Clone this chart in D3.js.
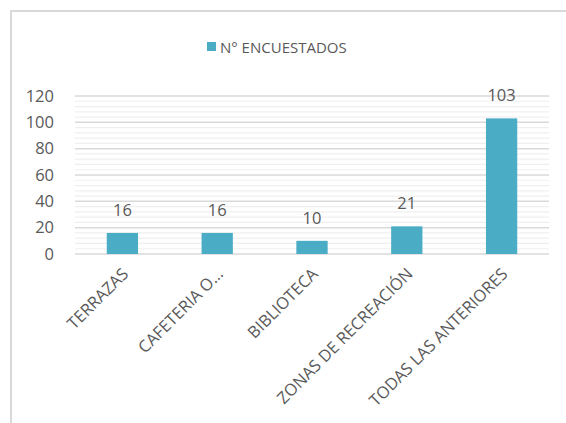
<!DOCTYPE html>
<html><head><meta charset="utf-8">
<script src="https://cdn.jsdelivr.net/npm/d3@7"></script>
<style>body{margin:0;background:#fff}svg{display:block}text{font-family:"Open Sans",sans-serif;fill:#595959}</style>
</head><body><svg id="c" width="566" height="423"></svg>
<script>
const categories = ["TERRAZAS","CAFETERIA O…","BIBLIOTECA","ZONAS DE RECREACIÓN","TODAS LAS ANTERIORES"];
const values = [16,16,10,21,103];
const seriesName = "N° ENCUESTADOS";
const yTicks = [0,20,40,60,80,100,120];
const minorTicks = d3.range(0,121,4).filter(v=>v%20!==0);
const color = "#4BACC6";

const svg = d3.select("#c");
svg.append("rect").attr("x",11).attr("y",11).attr("width",600).attr("height",450)
  .attr("fill","none").attr("stroke","#d9d9d9").attr("stroke-width",2);

const x = d3.scaleBand().domain(categories).range([75,549]).paddingInner(0.67).paddingOuter(0.335);
const y = d3.scaleLinear().domain([0,120]).range([254,96]);

svg.append("g").selectAll("line").data(minorTicks).join("line")
  .attr("x1",75).attr("x2",549).attr("y1",d=>y(d)).attr("y2",d=>y(d))
  .attr("stroke","#efefef").attr("stroke-width",1.2);
svg.append("g").selectAll("line").data(yTicks).join("line")
  .attr("x1",75).attr("x2",549).attr("y1",d=>y(d)).attr("y2",d=>y(d))
  .attr("stroke","#d9d9d9").attr("stroke-width",1.5);

const yAxis = svg.append("g").attr("transform","translate(54,0)")
  .call(d3.axisLeft(y).tickValues(yTicks).tickSize(0).tickPadding(0));
yAxis.select(".domain").remove();
yAxis.selectAll("text").attr("font-size",16.5).attr("font-family","'Open Sans',sans-serif").attr("fill","#595959");

svg.append("g").selectAll("rect").data(values).join("rect")
  .attr("x",(d,i)=>x(categories[i])).attr("width",x.bandwidth())
  .attr("y",d=>y(d)).attr("height",d=>y(0)-y(d)).attr("fill",color);

svg.append("g").selectAll("text").data(values).join("text")
  .attr("x",(d,i)=>x(categories[i])+x.bandwidth()/2).attr("y",d=>y(d)-17)
  .attr("text-anchor","middle").attr("font-size",16.5).text(d=>d);

const xAxis = svg.append("g").attr("transform","translate(0,254)")
  .call(d3.axisBottom(x).tickSize(0).tickPadding(0));
xAxis.select(".domain").remove();
xAxis.selectAll("text")
  .attr("font-size",16.5).attr("font-family","'Open Sans',sans-serif").attr("fill","#595959")
  .attr("text-anchor","end").attr("dy",0).attr("y",0)
  .attr("transform","translate(7,21) rotate(-45)");

const lg = svg.append("g");
lg.append("rect").attr("x",207).attr("y",42).attr("width",9).attr("height",9).attr("fill",color);
lg.append("text").attr("x",220).attr("y",52.5).attr("font-size",15).text(seriesName);
</script></body></html>
